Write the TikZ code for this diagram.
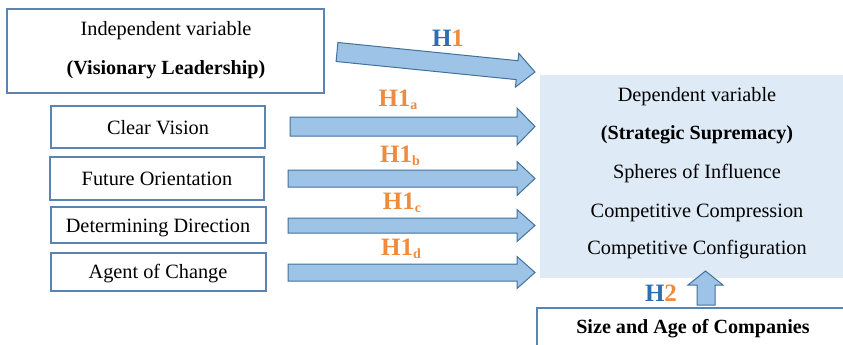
\documentclass[tikz,border=0pt]{standalone}
\usepackage{fontspec}
\setmainfont{Liberation Serif}
\definecolor{boxline}{HTML}{5B84B4}
\definecolor{lightfill}{HTML}{DEEAF6}
\definecolor{arrfill}{HTML}{9DC3E6}
\definecolor{arrline}{HTML}{41719C}
\definecolor{horange}{HTML}{F08A3C}
\definecolor{hblue}{HTML}{2E6DB4}
\tikzset{
  varbox/.style={draw=boxline, line width=1.3pt, fill=white},
  blockarrow/.style={draw=arrline, line width=1pt, fill=arrfill, line join=miter},
  txt/.style={font=\fontsize{20.3}{23}\selectfont, inner sep=0pt},
  btxt/.style={font=\fontsize{20.1}{23}\selectfont\bfseries, inner sep=0pt},
  hlab/.style={font=\fontsize{25}{27}\selectfont\bfseries, text=horange, inner sep=0pt},
}
\newcommand{\harr}[5]{% tailx, center y, body half, head half, name
  \draw[blockarrow] (#1,#2-#3) -- (517,#2-#3) -- (517,#2-#4) -- (535,#2) -- (517,#2+#4) -- (517,#2+#3) -- (#1,#2+#3) -- cycle;
  \coordinate (#5) at (535,#2);}
\newcommand{\hsub}[1]{\raisebox{-0.3ex}{\fontsize{14}{14}\selectfont #1}}
\begin{document}
\begin{tikzpicture}[x=1pt,y=-1pt]
\useasboundingbox (0,0) rectangle (843,345);
% boxes
\draw[varbox] (7,9) rectangle (324,93);
\node[txt] (iv1) at (166,31) {Independent variable};
\node[btxt] (iv2) at (166,70) {(Visionary Leadership)};
\draw[varbox] (51,106) rectangle (265,148);
\node[txt] (cv) at (158,128) {Clear Vision};
\draw[varbox] (50,157) rectangle (264,200);
\node[txt] (fo) at (157,179) {Future Orientation};
\draw[varbox] (51,207) rectangle (266,243);
\node[txt] (dd) at (158,228) {Determining Direction};
\draw[varbox] (51,253) rectangle (266,291);
\node[txt] (ac) at (158,274) {Agent of Change};
% dependent
\fill[lightfill] (540,75) rectangle (843,278);
\node[txt] (dv1) at (697,97) {Dependent variable};
\node[btxt] (dv2) at (697,135) {(Strategic Supremacy)};
\node[txt] (dv3) at (697,174) {Spheres of Influence};
\node[txt] (dv4) at (697,213) {Competitive Compression};
\node[txt] (dv5) at (697,250) {Competitive Configuration};
% size box
\draw[varbox] (537,308) rectangle (846,350);
\node[btxt] (sz) at (693,329) {Size and Age of Companies};
% H1 slanted arrow
\draw[blockarrow] (337.9,42.5) -- (518.0,60.7) -- (518.8,53.3) -- (535,72) -- (515.4,87.1) -- (516.2,79.6) -- (336.1,61.5) -- cycle;
\node[hlab] (h1) at (448,38) {\textcolor{hblue}{H}1};
% horizontal arrows
\harr{290}{126.5}{9.5}{18.5}{ta}
\harr{288}{178.5}{8.5}{17}{tb}
\harr{288}{225.5}{7.5}{16}{tc}
\harr{288}{272.5}{8.5}{16}{td}
\node[hlab] (h1a) at (398,100) {H1\hsub{a}};
\node[hlab] (h1b) at (400,156) {H1\hsub{b}};
\node[hlab] (h1c) at (402,203) {H1\hsub{c}};
\node[hlab] (h1d) at (401,249) {H1\hsub{d}};
% H2 up arrow
\draw[blockarrow] (697,305) -- (697,285) -- (688,285) -- (705.5,271) -- (723,285) -- (715,285) -- (715,305) -- cycle;
\node[hlab] (h2) at (661,293) {\textcolor{hblue}{H}2};
\end{tikzpicture}
\end{document}
